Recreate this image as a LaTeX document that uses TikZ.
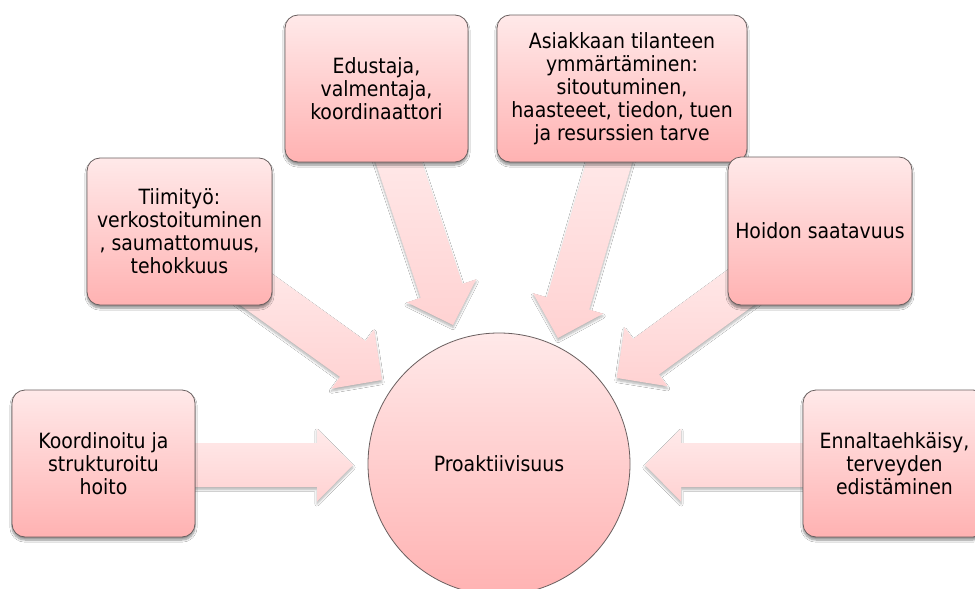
\documentclass[tikz,border=0pt]{standalone}
\usepackage{fontspec}
\setmainfont{DejaVu Sans Condensed}
\usetikzlibrary{calc,shadows.blur}

\definecolor{boxtop}{RGB}{255,233,233}
\definecolor{boxbot}{RGB}{255,178,178}
\definecolor{arrtop}{RGB}{255,234,234}
\definecolor{arrbot}{RGB}{255,210,210}
\definecolor{edgegray}{RGB}{105,95,95}

\tikzset{
  pinkbox/.style={draw=edgegray, line width=0.8pt, rounded corners=13pt,
    top color=boxtop, bottom color=boxbot, align=center, inner sep=4pt,
    font=\fontsize{21}{23}\selectfont,
    blur shadow={shadow xshift=0pt, shadow yshift=-3pt, shadow blur steps=8, shadow opacity=45}},
  hubcircle/.style={circle, draw=edgegray, line width=0.8pt,
    top color=boxtop, bottom color=boxbot, minimum size=262pt, inner sep=0pt,
    font=\fontsize{21}{23}\selectfont},
  fatarrow/.style={top color=arrtop, bottom color=arrbot,
    blur shadow={shadow xshift=0pt, shadow yshift=-2.5pt, shadow blur steps=6, shadow opacity=30}}
}

% block arrow from tail coordinate #1 to tip coordinate #2
\newcommand{\blockarrow}[2]{%
  \coordinate (#1-hb) at ($(#2)!36pt!(#1)$);
  \path[fatarrow]
    ($(#1)!22pt!90:(#2)$) -- ($(#1-hb)!22pt!90:(#2)$) -- ($(#1-hb)!36.5pt!90:(#2)$)
    -- (#2) -- ($(#1-hb)!36.5pt!-90:(#2)$) -- ($(#1-hb)!22pt!-90:(#2)$)
    -- ($(#1)!22pt!-90:(#2)$) -- cycle;
}

\begin{document}
\begin{tikzpicture}[x=1pt,y=-1pt]
  \useasboundingbox (0,0) rectangle (975,589);
  \clip (0,0) rectangle (975,589);
  \fill[white] (0,0) rectangle (975,589);

  % arrow tails (hidden under the boxes) and tips
  \coordinate (tKoord) at (150,465);   \coordinate (pKoord) at (353,465);
  \coordinate (tTiimi) at (236,275);   \coordinate (pTiimi) at (382,380);
  \coordinate (tEdus)  at (393,145);   \coordinate (pEdus)  at (453,325);
  \coordinate (tAsiak) at (614,146);   \coordinate (pAsiak) at (558,338);
  \coordinate (tHoito) at (762,272);   \coordinate (pHoito) at (617,378);
  \coordinate (tEnnal) at (850,465);   \coordinate (pEnnal) at (645,465);

  \blockarrow{tKoord}{pKoord}
  \blockarrow{tTiimi}{pTiimi}
  \blockarrow{tEdus}{pEdus}
  \blockarrow{tAsiak}{pAsiak}
  \blockarrow{tHoito}{pHoito}
  \blockarrow{tEnnal}{pEnnal}

  % boxes
  \node[pinkbox, minimum width=183pt, minimum height=147pt] (koord) at (103.5,463.5)
    {Koordinoitu ja\\strukturoitu\\hoito};
  \node[pinkbox, minimum width=185pt, minimum height=147pt] (tiimi) at (179.5,231.5)
    {Tiimityö:\\verkostoituminen\\, saumattomuus,\\tehokkuus};
  \node[pinkbox, minimum width=183pt, minimum height=147pt] (edus) at (376.5,88.5)
    {Edustaja,\\valmentaja,\\koordinaattori};
  \node[pinkbox, minimum width=250pt, minimum height=147pt] (asiak) at (622,88.5)
    {Asiakkaan tilanteen\\ymmärtäminen:\\sitoutuminen,\\haasteeet, tiedon, tuen\\ja resurssien tarve};
  \node[pinkbox, minimum width=184pt, minimum height=148pt] (hoito) at (820,231)
    {Hoidon saatavuus};
  \node[pinkbox, minimum width=183pt, minimum height=147pt] (ennal) at (894.5,463.5)
    {Ennaltaehkäisy,\\terveyden\\edistäminen};

  % central circle
  \node[hubcircle] (hub) at (499,464) {Proaktiivisuus};
\end{tikzpicture}
\end{document}
